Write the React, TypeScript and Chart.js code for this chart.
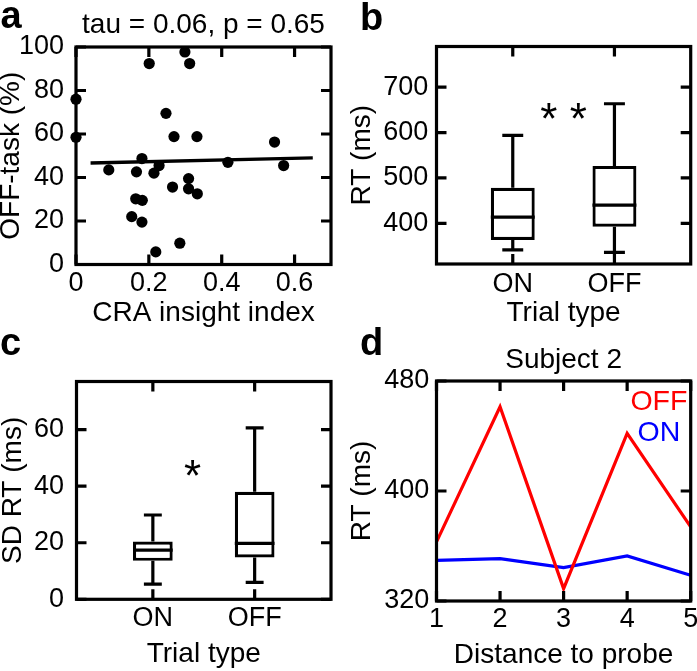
import React, { useEffect, useRef } from "react";
import { Chart, registerables } from "chart.js";

Chart.register(...registerables);

const FONT = "'Liberation Sans', Arial, Helvetica, sans-serif";
Chart.defaults.font.family = FONT;
Chart.defaults.color = "#000";

// ---------------- data ----------------
// panel a: scatter
const aCraIndex = [0, 0, 0.201, 0.299, 0.312, 0.247, 0.269, 0.332, 0.545, 0.57, 0.417, 0.09, 0.181, 0.166, 0.214, 0.228, 0.265, 0.309, 0.309, 0.333, 0.164, 0.182, 0.153, 0.181, 0.285, 0.219];
const aOffTask = [76, 58.5, 92.4, 97.7, 92.4, 69.5, 58.8, 58.8, 56.3, 45.5, 47, 43.5, 48.7, 42.6, 42, 45.5, 35.6, 39.5, 34.8, 32.5, 30.2, 29.5, 22, 19.5, 9.8, 5.8];
const aFitX = [0.04, 0.65];
const aFitY = [46.7, 49.0];
const aXTicks = [0, 0.2, 0.4, 0.6];
const aYTicks = [0, 20, 40, 60, 80, 100];

// panels b, c: boxplots
const trialTypes = ["ON", "OFF"];
const trialPos = [1, 2];
const bMin = [341.5, 336.3];
const bQ1 = [363.4, 392.7];
const bMedian = [413.9, 440.2];
const bQ3 = [478.3, 526.6];
const bMax = [593.9, 663.4];
const bYTicks = [400, 500, 600, 700];

const cMin = [5.4, 6.0];
const cQ1 = [13.6, 14.8];
const cMedian = [17.4, 19.8];
const cQ3 = [20.4, 38.0];
const cMax = [29.8, 60.6];
const cYTicks = [0, 20, 40, 60];

// panel d: lines
const dDistance = [1, 2, 3, 4, 5];
const dOff = [363, 461.3, 329, 441.9, 373.9];
const dOn = [349.6, 350.8, 344.3, 352.8, 338.7];
const dYTicks = [320, 400, 480];

// ---------------- styling ----------------
const LW = 3.2;
const TL = 10;
const TICK_FONT = { size: 27, lineHeight: 1 };
const TITLE_FONT = { size: 28, lineHeight: 1 };

function makeX(min: number, max: number, ticks: number[], height: number, tickPad: number, title: string, titlePadBottom: number, labelFn?: (v: number) => string) {
  return {
    type: "linear",
    position: "bottom",
    min,
    max,
    offset: false,
    grid: { display: false, drawTicks: false },
    border: { display: false },
    afterBuildTicks: (s: any) => {
      s.ticks = ticks.map((v) => ({ value: v }));
    },
    afterFit: (s: any) => {
      s.height = height;
      s.paddingLeft = 0;
      s.paddingRight = 0;
      s.paddingTop = 0;
      s.paddingBottom = 0;
    },
    ticks: {
      autoSkip: false,
      maxRotation: 0,
      minRotation: 0,
      padding: tickPad,
      font: TICK_FONT,
      color: "#000",
      callback: (v: any) => (labelFn ? labelFn(Number(v)) : String(v)),
    },
    title: { display: true, text: title, font: TITLE_FONT, color: "#000", padding: { top: 0, bottom: titlePadBottom } },
  };
}

function makeY(min: number, max: number, ticks: number[], width: number, tickPad: number, title: string, titlePadTop: number) {
  return {
    type: "linear",
    position: "left",
    min,
    max,
    grid: { display: false, drawTicks: false },
    border: { display: false },
    afterBuildTicks: (s: any) => {
      s.ticks = ticks.map((v) => ({ value: v }));
    },
    afterFit: (s: any) => {
      s.width = width;
      s.paddingLeft = 0;
      s.paddingRight = 0;
      s.paddingTop = 0;
      s.paddingBottom = 0;
    },
    ticks: { autoSkip: false, padding: tickPad, font: TICK_FONT, color: "#000", callback: (v: any) => String(v) },
    title: { display: true, text: title, font: TITLE_FONT, color: "#000", padding: { top: titlePadTop, bottom: 0 } },
  };
}

function frameTicks(xTicks: number[], yTicks: number[]) {
  return {
    id: "frameTicks",
    afterDatasetsDraw(chart: any) {
      const { ctx, chartArea } = chart;
      const { left, right, top, bottom } = chartArea;
      const x = chart.scales.x;
      const y = chart.scales.y;
      ctx.save();
      ctx.strokeStyle = "#000";
      ctx.lineWidth = LW;
      ctx.beginPath();
      for (const v of xTicks) {
        const px = x.getPixelForValue(v);
        ctx.moveTo(px, bottom);
        ctx.lineTo(px, bottom - TL);
        ctx.moveTo(px, top);
        ctx.lineTo(px, top + TL);
      }
      for (const v of yTicks) {
        const py = y.getPixelForValue(v);
        ctx.moveTo(left, py);
        ctx.lineTo(left + TL, py);
        ctx.moveTo(right, py);
        ctx.lineTo(right - TL, py);
      }
      ctx.stroke();
      ctx.strokeRect(left, top, right - left, bottom - top);
      ctx.restore();
    },
  };
}

type Label = {
  text: string;
  size: number;
  bold?: boolean;
  color?: string;
  align?: CanvasTextAlign;
  px?: [number, number];
  data?: [number, number];
  titleOffset?: number;
  dy?: number;
};

function labelsPlugin(labels: Label[]) {
  return {
    id: "labels",
    afterDraw(chart: any) {
      const { ctx, chartArea } = chart;
      ctx.save();
      for (const l of labels) {
        ctx.font = `${l.bold ? "bold " : ""}${l.size}px ${FONT}`;
        ctx.fillStyle = l.color || "#000";
        ctx.textAlign = l.align || "left";
        ctx.textBaseline = "alphabetic";
        let x = 0;
        let y = 0;
        if (l.data) {
          x = chart.scales.x.getPixelForValue(l.data[0]);
          y = chart.scales.y.getPixelForValue(l.data[1]);
        } else if (l.titleOffset != null) {
          x = (chartArea.left + chartArea.right) / 2;
          y = chartArea.top - l.titleOffset;
        } else if (l.px) {
          x = l.px[0];
          y = l.px[1];
        }
        ctx.fillText(l.text, x, y + (l.dy || 0));
      }
      ctx.restore();
    },
  };
}

function boxplotDatasets(mins: number[], q1s: number[], meds: number[], q3s: number[], maxs: number[], boxWidth: number, capHalf: number) {
  const segs: any[] = [];
  trialPos.forEach((x, i) => {
    segs.push({ x, y: q3s[i] }, { x, y: maxs[i] }, { x, y: null });
    segs.push({ x, y: q1s[i] }, { x, y: mins[i] }, { x, y: null });
    segs.push({ x: x - capHalf, y: maxs[i] }, { x: x + capHalf, y: maxs[i] }, { x, y: null });
    segs.push({ x: x - capHalf, y: mins[i] }, { x: x + capHalf, y: mins[i] }, { x, y: null });
    segs.push({ x: x - boxWidth / 2, y: meds[i] }, { x: x + boxWidth / 2, y: meds[i] }, { x, y: null });
  });
  return [
    {
      type: "line",
      data: segs,
      borderColor: "#000",
      borderWidth: LW,
      pointRadius: 0,
      spanGaps: false,
      fill: false,
      tension: 0,
      order: 0,
    },
    {
      type: "bar",
      data: trialPos.map((x, i) => ({ x, y: [q1s[i], q3s[i]] })),
      backgroundColor: "#fff",
      borderColor: "#000",
      borderWidth: LW,
      borderSkipped: false,
      categoryPercentage: 1,
      barPercentage: boxWidth,
      order: 1,
    },
  ];
}

const baseOptions = (padding: any) => ({
  responsive: false,
  devicePixelRatio: 1,
  animation: false,
  events: [],
  layout: { padding },
  plugins: { legend: { display: false }, tooltip: { enabled: false }, title: { display: false } },
});

function configA() {
  return {
    type: "scatter",
    data: {
      datasets: [
        {
          type: "scatter",
          data: aCraIndex.map((x, i) => ({ x, y: aOffTask[i] })),
          pointRadius: 5.6,
          pointBackgroundColor: "#000",
          pointBorderColor: "#000",
          pointBorderWidth: 0,
          clip: false,
        },
        {
          type: "line",
          data: aFitX.map((x, i) => ({ x, y: aFitY[i] })),
          borderColor: "#000",
          borderWidth: 3.4,
          pointRadius: 0,
        },
      ],
    },
    options: {
      ...baseOptions({ left: 0, right: 17, top: 47, bottom: 0 }),
      scales: {
        x: makeX(0, 0.7, aXTicks, 70.5, 6, "CRA insight index", 7.5),
        y: makeY(0, 100, aYTicks, 76, 12, "OFF-task (%)", -2.5),
      },
    },
    plugins: [
      frameTicks(aXTicks, aYTicks),
      labelsPlugin([
        { text: "a", size: 38, bold: true, px: [0.5, 28.3] },
        { text: "tau = 0.06, p = 0.65", size: 28, align: "center", titleOffset: 14 },
      ]),
    ],
  };
}

function configB() {
  return {
    type: "bar",
    data: { datasets: boxplotDatasets(bMin, bQ1, bMedian, bQ3, bMax, 0.432, 0.103) },
    options: {
      ...baseOptions({ left: 0, right: 6.3, top: 46.5, bottom: 0 }),
      scales: {
        x: makeX(0.25, 2.75, trialPos, 71, 6.8, "Trial type", 7.8, (v) => trialTypes[Math.round(v) - 1]),
        y: makeY(310.5, 789.5, bYTicks, 88.5, 8.2, "RT (ms)", 0.2),
      },
    },
    plugins: [
      frameTicks(trialPos, bYTicks),
      labelsPlugin([
        { text: "b", size: 38, bold: true, px: [12, 30] },
        { text: "* *", size: 44, align: "center", data: [1.5, 652.6], dy: 25 },
      ]),
    ],
  };
}

function configC() {
  return {
    type: "bar",
    data: { datasets: boxplotDatasets(cMin, cQ1, cMedian, cQ3, cMax, 0.39, 0.088) },
    options: {
      ...baseOptions({ left: 0, right: 17, top: 61.5, bottom: 0 }),
      scales: {
        x: makeX(0.25, 2.75, trialPos, 71.7, 5.9, "Trial type", 3.2, (v) => trialTypes[Math.round(v) - 1]),
        y: makeY(0, 77, cYTicks, 76.5, 12.5, "SD RT (ms)", -0.5),
      },
    },
    plugins: [
      frameTicks(trialPos, cYTicks),
      labelsPlugin([
        { text: "c", size: 38, bold: true, px: [0, 35] },
        { text: "*", size: 44, align: "center", data: [1.39, 47.2], dy: 25 },
      ]),
    ],
  };
}

function configD() {
  return {
    type: "line",
    data: {
      datasets: [
        {
          label: "OFF",
          data: dDistance.map((x, i) => ({ x, y: dOff[i] })),
          borderColor: "#ff0000",
          borderWidth: 3.2,
          pointRadius: 0,
          tension: 0,
        },
        {
          label: "ON",
          data: dDistance.map((x, i) => ({ x, y: dOn[i] })),
          borderColor: "#0000ff",
          borderWidth: 3.2,
          pointRadius: 0,
          tension: 0,
        },
      ],
    },
    options: {
      ...baseOptions({ left: 0, right: 27.3, top: 61, bottom: 0 }),
      scales: {
        x: makeX(1, 5, dDistance, 70, 4.8, "Distance to probe", 2.2),
        y: makeY(320, 480, dYTicks, 88.5, 7.2, "RT (ms)", 0),
      },
    },
    plugins: [
      frameTicks(dDistance, dYTicks),
      labelsPlugin([
        { text: "d", size: 38, bold: true, px: [12, 35] },
        { text: "Subject 2", size: 28, align: "center", titleOffset: 13 },
        { text: "OFF", size: 28.5, align: "center", color: "#ff0000", data: [4.5, 458.9] },
        { text: "ON", size: 28.5, align: "center", color: "#0000ff", data: [4.5, 436.4] },
      ]),
    ],
  };
}

function ChartCanvas({ make, left, top, width, height }: { make: () => any; left: number; top: number; width: number; height: number }) {
  const ref = useRef<HTMLCanvasElement>(null);
  useEffect(() => {
    const chart = new Chart(ref.current as HTMLCanvasElement, make());
    return () => chart.destroy();
  }, [make]);
  return (
    <canvas
      ref={ref}
      width={width}
      height={height}
      style={{ position: "absolute", left, top, width, height, display: "block" }}
    />
  );
}

export default function App() {
  return (
    <div
      style={{
        position: "absolute",
        left: 0,
        top: 0,
        width: 697,
        height: 671,
        overflow: "hidden",
        background: "#fff",
      }}
    >
      <ChartCanvas make={configA} left={0} top={0} width={348} height={335} />
      <ChartCanvas make={configB} left={348} top={0} width={349} height={335} />
      <ChartCanvas make={configC} left={0} top={320} width={348} height={351} />
      <ChartCanvas make={configD} left={348} top={320} width={370} height={351} />
    </div>
  );
}
